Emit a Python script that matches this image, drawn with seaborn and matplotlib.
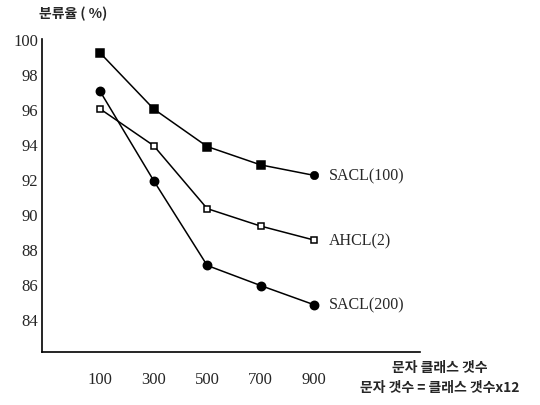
import pandas as pd
import matplotlib.pyplot as plt
import seaborn as sns

# 문자 클래스 갯수
classes = [100, 300, 500, 700, 900]
sacl100 = [99.2, 96.0, 93.85, 92.8, 92.2]
ahcl2 = [96.0, 93.9, 90.3, 89.3, 88.5]
sacl200 = [97.0, 91.9, 87.05, 85.9, 84.8]
series_names = ['SACL(100)', 'AHCL(2)', 'SACL(200)']
y_ticks = [84, 86, 88, 90, 92, 94, 96, 98, 100]

sns.set_style('white')
plt.rcParams['font.family'] = ['Liberation Serif', 'Noto Sans CJK KR']

df = pd.DataFrame({
    'n': classes * 3,
    'rate': sacl100 + ahcl2 + sacl200,
    'name': [s for s in series_names for _ in classes],
})

fig = plt.figure(figsize=(5.4, 4.06), dpi=100)
ax = fig.add_axes([0.078, 0.1305, 0.70, 0.771])

styles = {
    'SACL(100)': dict(marker='s', mfc='black', ms=5.5, markevery=[0, 1, 2, 3]),
    'AHCL(2)': dict(marker='s', mfc='white', ms=4.5),
    'SACL(200)': dict(marker='o', mfc='black', ms=6),
}
for name in series_names:
    sub = df[df['name'] == name]
    sns.lineplot(data=sub, x='n', y='rate', ax=ax, color='black', lw=1.1,
                 mec='black', mew=1.1, **styles[name])
    ax.text(sub['n'].iloc[-1] + 55, sub['rate'].iloc[-1], name,
            va='center', ha='left', fontsize=11.5)

# last SACL(100) point is drawn as a dot in the original
last = df[df['name'] == 'SACL(100)'].tail(1)
sns.scatterplot(data=last, x='n', y='rate', ax=ax, color='black', s=36,
                marker='o', edgecolor='black', zorder=3)

ax.set_xlim(-117, 1296)
ax.set_ylim(82.1, 100)
ax.set_xticks(classes)
ax.set_yticks(y_ticks)
ax.set_xlabel('')
ax.set_ylabel('')
sns.despine(ax=ax)
for sp in ['left', 'bottom']:
    ax.spines[sp].set_color('black')
    ax.spines[sp].set_linewidth(1.2)
ax.tick_params(axis='y', direction='in', length=8.5, width=1.1, labelsize=12, pad=3, color='black')
ax.tick_params(axis='x', direction='inout', length=8, width=1.1, labelsize=12, pad=10, color='black')

fig.text(0.072, 0.965, '분류율 ( %)', fontsize=10, fontweight='bold',
         family=['Noto Sans CJK KR'], ha='left', va='center')
fig.text(0.815, 0.093, '문자 클래스 갯수', fontsize=10, fontweight='bold',
         family=['Noto Sans CJK KR'], ha='center', va='center')
fig.text(0.815, 0.045, '문자 갯수 = 클래스 갯수x12', fontsize=10, fontweight='bold',
         family=['Noto Sans CJK KR'], ha='center', va='center')

fig.savefig('out.png', dpi=100)
